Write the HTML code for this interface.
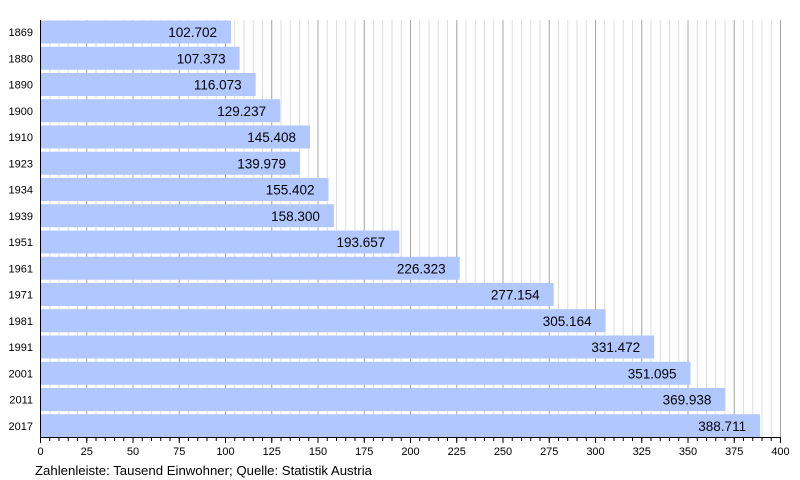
<!DOCTYPE html>
<html><head><meta charset="utf-8"><style>
html,body{margin:0;padding:0;background:#fff;}
svg{display:block;font-family:"Liberation Sans",sans-serif;}
</style></head><body>
<svg width="800" height="480" viewBox="0 0 800 480" xmlns="http://www.w3.org/2000/svg">
<defs>
<pattern id="mn" x="40" y="0" width="9.25" height="10" patternUnits="userSpaceOnUse"><line x1="0.5" y1="0" x2="0.5" y2="10" stroke="#dddddd" stroke-width="1"/></pattern>
<pattern id="mj" x="40" y="0" width="46.25" height="10" patternUnits="userSpaceOnUse"><line x1="0.5" y1="0" x2="0.5" y2="10" stroke="#a8a8a8" stroke-width="1"/></pattern>
<pattern id="tk" x="40" y="0" width="9.25" height="10" patternUnits="userSpaceOnUse"><line x1="0.5" y1="0" x2="0.5" y2="10" stroke="#000" stroke-width="1"/></pattern>
<pattern id="tkM" x="40" y="0" width="46.25" height="10" patternUnits="userSpaceOnUse"><line x1="0.5" y1="0" x2="0.5" y2="10" stroke="#000" stroke-width="1"/></pattern>
</defs>
<rect x="41" y="20" width="741" height="418" fill="url(#mn)"/>
<rect x="41" y="20" width="741" height="418" fill="url(#mj)"/>
<g fill="#b0c8ff">
<rect x="41" y="20.5" width="190" height="23"/>
<rect x="41" y="46.75" width="198.6" height="23"/>
<rect x="41" y="73" width="214.7" height="23"/>
<rect x="41" y="99.25" width="239.1" height="23"/>
<rect x="41" y="125.5" width="269" height="23"/>
<rect x="41" y="151.75" width="259" height="23"/>
<rect x="41" y="178" width="287.5" height="23"/>
<rect x="41" y="204.25" width="292.9" height="23"/>
<rect x="41" y="230.5" width="358.3" height="23"/>
<rect x="41" y="256.75" width="418.7" height="23"/>
<rect x="41" y="283" width="512.7" height="23"/>
<rect x="41" y="309.25" width="564.6" height="23"/>
<rect x="41" y="335.5" width="613.2" height="23"/>
<rect x="41" y="361.75" width="649.5" height="23"/>
<rect x="41" y="388" width="684.4" height="23"/>
<rect x="41" y="414.25" width="719.1" height="23"/>
</g>
<g font-size="13.5" fill="#000" text-anchor="end">
<text x="217" y="37">102.702</text>
<text x="225.6" y="63.25">107.373</text>
<text x="241.7" y="89.5">116.073</text>
<text x="266.1" y="115.75">129.237</text>
<text x="296" y="142">145.408</text>
<text x="286" y="168.25">139.979</text>
<text x="314.5" y="194.5">155.402</text>
<text x="319.9" y="220.75">158.300</text>
<text x="385.3" y="247">193.657</text>
<text x="445.7" y="273.25">226.323</text>
<text x="539.7" y="299.5">277.154</text>
<text x="591.6" y="325.75">305.164</text>
<text x="640.2" y="352">331.472</text>
<text x="676.5" y="378.25">351.095</text>
<text x="711.4" y="404.5">369.938</text>
<text x="746.1" y="430.75">388.711</text>
</g>
<g font-size="11" fill="#000" text-anchor="end">
<text x="33" y="36">1869</text>
<text x="33" y="62.25">1880</text>
<text x="33" y="88.5">1890</text>
<text x="33" y="114.75">1900</text>
<text x="33" y="141">1910</text>
<text x="33" y="167.25">1923</text>
<text x="33" y="193.5">1934</text>
<text x="33" y="219.75">1939</text>
<text x="33" y="246">1951</text>
<text x="33" y="272.25">1961</text>
<text x="33" y="298.5">1971</text>
<text x="33" y="324.75">1981</text>
<text x="33" y="351">1991</text>
<text x="33" y="377.25">2001</text>
<text x="33" y="403.5">2011</text>
<text x="33" y="429.75">2017</text>
</g>
<line x1="40.5" y1="20" x2="40.5" y2="438" stroke="#000"/>
<line x1="40" y1="437.5" x2="781" y2="437.5" stroke="#000"/>
<rect x="40" y="438" width="742" height="3" fill="url(#tk)"/>
<rect x="40" y="438" width="742" height="5" fill="url(#tkM)"/>
<g font-size="11" fill="#000" text-anchor="middle">
<text x="40.5" y="455">0</text><text x="86.75" y="455">25</text><text x="133" y="455">50</text><text x="179.25" y="455">75</text>
<text x="225.5" y="455">100</text><text x="271.75" y="455">125</text><text x="318" y="455">150</text><text x="364.25" y="455">175</text>
<text x="410.5" y="455">200</text><text x="456.75" y="455">225</text><text x="503" y="455">250</text><text x="549.25" y="455">275</text>
<text x="595.5" y="455">300</text><text x="641.75" y="455">325</text><text x="688" y="455">350</text><text x="734.25" y="455">375</text>
<text x="780.5" y="455">400</text>
</g>
<text x="35" y="475" font-size="13.2" fill="#000">Zahlenleiste: Tausend Einwohner; Quelle: Statistik Austria</text>
</svg>
</body></html>
